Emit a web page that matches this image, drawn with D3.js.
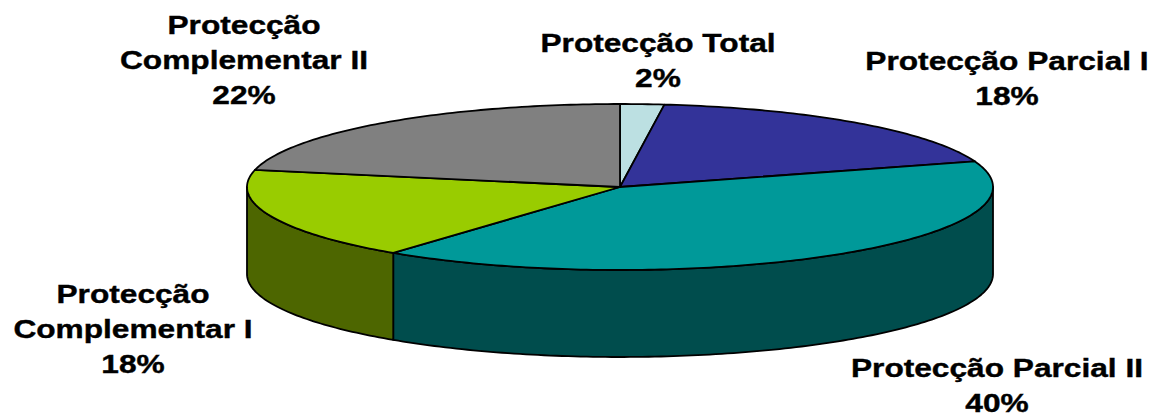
<!DOCTYPE html>
<html><head><meta charset="utf-8">
<script src="https://cdn.jsdelivr.net/npm/d3@7/dist/d3.min.js"></script>
<style>html,body{margin:0;padding:0;background:#fff;overflow:hidden}svg{display:block}
text{font-family:"Liberation Sans",Arial,sans-serif;font-weight:700;font-size:26.5px;fill:#000;stroke:#000;stroke-width:.4;text-anchor:middle}</style>
</head><body><script>
const categories=["Protecção Total","Protecção Parcial I","Protecção Parcial II","Protecção Complementar I","Protecção Complementar II"];
const values=[1.9,18.1,40.4,17.9,21.7];
const topColors=["#bce0e2","#333399","#009999","#99cc00","#808080"];
const sideColors=["#5e7071","#1a1a4d","#004d4d","#4d6600","#404040"];
const labelLines=[["Protecção Total","2%"],["Protecção Parcial I","18%"],["Protecção Parcial II","40%"],["Protecção","Complementar I","18%"],["Protecção","Complementar II","22%"]];
const labelAnchors=[[658,52],[1007,70],[997,377],[133,303],[244,34]];
const W=1152,H=417,cx=620,cy=187,rx=373,ry=83,depth=87,hScale=1.195;
const svg=d3.select("body").append("svg").attr("width",W).attr("height",H);
const pie=d3.pie().sort(null).value(d=>d)(values);
const px=a=>cx+rx*Math.sin(a), py=a=>cy-ry*Math.cos(a);
const line=d3.line();
const arcPts=(a0,a1,dy=0)=>{const n=Math.max(2,Math.ceil((a1-a0)*60));return d3.range(n+1).map(i=>{const a=a0+(a1-a0)*i/n;return [px(a),py(a)+dy];});};
const lo=Math.PI/2,hi=3*Math.PI/2;
pie.forEach((d,i)=>{
  const a0=Math.max(d.startAngle,lo),a1=Math.min(d.endAngle,hi);
  if(a1>a0){
    const pts=arcPts(a0,a1).concat(arcPts(a0,a1,depth).reverse());
    svg.append("path").attr("d",line(pts)+"Z").attr("fill",sideColors[i]).attr("stroke","#000").attr("stroke-width",1.8).attr("stroke-linejoin","round");
  }
});
pie.forEach((d,i)=>{
  const pts=[[cx,cy]].concat(arcPts(d.startAngle,d.endAngle));
  svg.append("path").attr("d",line(pts)+"Z").attr("fill",topColors[i]).attr("stroke","#000").attr("stroke-width",1.8).attr("stroke-linejoin","round");
});
labelLines.forEach((ls,i)=>{
  const t=svg.append("text").attr("transform",`translate(${labelAnchors[i][0]},${labelAnchors[i][1]}) scale(${hScale},1)`);
  ls.forEach((s,k)=>t.append("tspan").attr("x",0).attr("y",k*35).text(s));
});
</script></body></html>
